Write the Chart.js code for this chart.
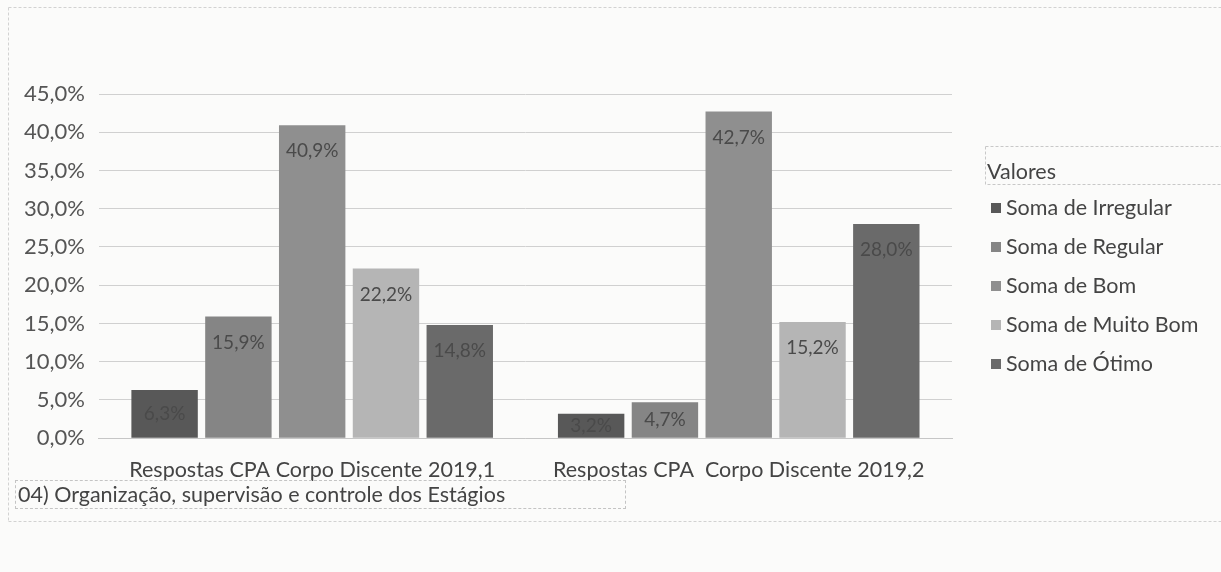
<!DOCTYPE html>
<html>
<head>
<meta charset="utf-8">
<script src="https://cdn.jsdelivr.net/npm/chart.js@4.4.1/dist/chart.umd.min.js"></script>
<style>
  html, body { margin: 0; padding: 0; background: #fbfbfa; }
  #wrap { position: relative; width: 1221px; height: 572px; overflow: hidden; }
  #grafico { position: absolute; left: 0; top: 0; }
  #titulo {
    position: absolute; left: 15px; top: 480px; width: 611px; height: 29px;
    border: 1px dashed #c4c4c4; box-sizing: border-box;
    font-family: Lato, sans-serif; font-size: 21.5px; color: #444;
    line-height: 27px; padding-left: 2px; white-space: nowrap;
  }
</style>
</head>
<body>
<div id="wrap">
  <canvas id="grafico" width="1221" height="572"></canvas>
  <div id="titulo">04) Organização, supervisão e controle dos Estágios</div>
</div>
<script>
  // dados
  var categorias = ['Respostas CPA Corpo Discente 2019,1', 'Respostas CPA  Corpo Discente 2019,2'];
  var series = ['Soma de Irregular', 'Soma de Regular', 'Soma de Bom', 'Soma de Muito Bom', 'Soma de Ótimo'];
  var irregular = [6.3, 3.2];
  var regular = [15.9, 4.7];
  var bom = [40.9, 42.7];
  var muitoBom = [22.2, 15.2];
  var otimo = [14.8, 28.0];
  var yTicks = [0, 5, 10, 15, 20, 25, 30, 35, 40, 45];
  var legendTitle = 'Valores';

  (function(){
    'use strict';

    var cores = ['#585858', '#858585', '#8f8f8f', '#b5b5b5', '#6a6a6a'];
    var valores = [irregular, regular, bom, muitoBom, otimo];
    var fonte = 'Lato, sans-serif';

    function fmt(v){
      return v.toFixed(1).replace('.', ',') + '%';
    }

    var datasets = series.map(function(nome, i){
      return {
        label: nome,
        data: valores[i],
        backgroundColor: cores[i],
        borderWidth: 0,
        categoryPercentage: 0.865,
        barPercentage: 0.9
      };
    });

    // moldura do grafico
    var moldura = {
      id: 'moldura',
      beforeDraw: function(chart){
        var c = chart.ctx;
        c.save();
        c.strokeStyle = '#d2d2d2';
        c.lineWidth = 1;
        c.setLineDash([3, 2]);
        c.beginPath();
        c.moveTo(8.5, 7.5); c.lineTo(1221, 7.5);
        c.moveTo(8.5, 7.5); c.lineTo(8.5, 521.5);
        c.moveTo(8.5, 521.5); c.lineTo(1221, 521.5);
        c.stroke();
        c.restore();
      }
    };

    // rotulos de dados dentro das barras
    var rotulos = {
      id: 'rotulos',
      afterDatasetsDraw: function(chart){
        var c = chart.ctx;
        c.save();
        c.font = '19px ' + fonte;
        c.fillStyle = '#4a4a4a';
        c.textAlign = 'center';
        c.textBaseline = 'middle';
        chart.data.datasets.forEach(function(ds, i){
          chart.getDatasetMeta(i).data.forEach(function(bar, j){
            var y = Math.min(bar.y + 26, (bar.y + bar.base) / 2);
            c.fillText(fmt(ds.data[j]), bar.x, y);
          });
        });
        c.restore();
      }
    };

    // legenda com titulo "Valores"
    var legenda = {
      id: 'legenda',
      afterDraw: function(chart){
        var c = chart.ctx;
        var x0 = chart.chartArea.right + 33;
        c.save();
        c.strokeStyle = '#c8c8c8';
        c.setLineDash([3, 2]);
        c.strokeRect(x0 + 0.5, 146.5, 1221 - x0, 38);
        c.setLineDash([]);
        c.font = '21.5px ' + fonte;
        c.fillStyle = '#444';
        c.textBaseline = 'middle';
        c.fillText(legendTitle, x0 + 2, 172);
        chart.data.datasets.forEach(function(ds, i){
          var y = 208 + i * 39;
          c.fillStyle = ds.backgroundColor;
          c.fillRect(x0 + 6, y - 5, 10, 10);
          c.fillStyle = '#444';
          c.fillText(ds.label, x0 + 21, y);
        });
        c.restore();
      }
    };

    var ctx = document.getElementById('grafico').getContext('2d');
    var grafico = new Chart(ctx, {
      type: 'bar',
      data: {
        labels: categorias,
        datasets: datasets
      },
      options: {
        responsive: false,
        animation: false,
        layout: {
          padding: { top: 94, right: 269, bottom: 78, left: 10 }
        },
        plugins: {
          legend: { display: false },
          tooltip: { enabled: false }
        },
        scales: {
          x: {
            grid: { display: false },
            border: { color: '#c6c6c6' },
            ticks: { font: { family: fonte, size: 21.5 }, color: '#444', padding: 11 }
          },
          y: {
            min: 0,
            max: 45,
            afterBuildTicks: function(axis){
              axis.ticks = yTicks.map(function(v){ return { value: v }; });
            },
            grid: { color: '#d0d0d0', drawTicks: false },
            border: { display: false },
            ticks: {
              font: { family: fonte, size: 22 },
              color: '#555',
              padding: 14,
              callback: function(v){ return fmt(v); }
            }
          }
        }
      },
      plugins: [moldura, rotulos, legenda]
    });
  })();
</script>
</body>
</html>
